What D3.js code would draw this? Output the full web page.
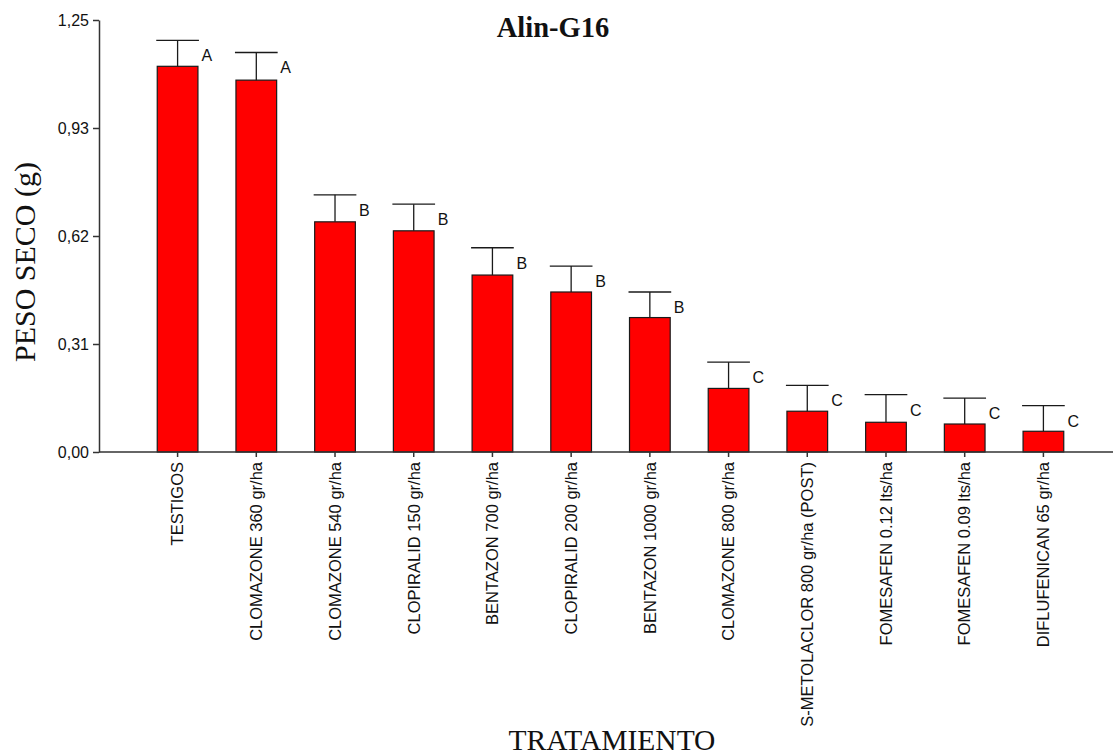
<!DOCTYPE html>
<html>
<head>
<meta charset="utf-8">
<script src="https://cdn.jsdelivr.net/npm/d3@7"></script>
<style>
  body { margin: 0; background: #fff; }
  svg { display: block; }
</style>
</head>
<body>
<div id="chart"></div>
<script>
const categories = [
  'TESTIGOS', 'CLOMAZONE 360 gr/ha', 'CLOMAZONE 540 gr/ha', 'CLOPIRALID 150 gr/ha',
  'BENTAZON 700 gr/ha', 'CLOPIRALID 200 gr/ha', 'BENTAZON 1000 gr/ha', 'CLOMAZONE 800 gr/ha',
  'S-METOLACLOR 800 gr/ha (POST)', 'FOMESAFEN 0.12 lts/ha', 'FOMESAFEN 0.09 lts/ha', 'DIFLUFENICAN 65 gr/ha'
];
const means = [1.116, 1.076, 0.666, 0.640, 0.512, 0.463, 0.389, 0.184, 0.118, 0.086, 0.081, 0.060];
const errors = [0.075, 0.080, 0.078, 0.077, 0.079, 0.075, 0.074, 0.076, 0.075, 0.080, 0.075, 0.074];
const groups = ['A', 'A', 'B', 'B', 'B', 'B', 'B', 'C', 'C', 'C', 'C', 'C'];
const yTicks = [0, 0.3125, 0.625, 0.9375, 1.25];
const yTickLabels = ['0,00', '0,31', '0,62', '0,93', '1,25'];

const width = 1114, height = 756;
const sans = '"Liberation Sans", Arial, sans-serif',
    serif = '"Liberation Serif", "Times New Roman", serif';

const svg = d3.select('#chart').append('svg')
  .attr('width', width)
  .attr('height', height);

const x = d3.scaleBand()
  .domain(categories)
  .range([99, 1122])
  .paddingInner(0.483)
  .paddingOuter(0.74);

const y = d3.scaleLinear().domain([0, 1.25]).range([452, 20]);

const data = categories.map((c, i) => ({ cat: c, mean: means[i], err: errors[i], group: groups[i] }));

// bars
svg.append('g').selectAll('rect')
  .data(data)
  .enter().append('rect')
    .attr('x', d => x(d.cat))
    .attr('y', d => y(d.mean))
    .attr('width', x.bandwidth())
    .attr('height', d => y(0) - y(d.mean))
    .attr('fill', '#ff0000')
    .attr('stroke', '#1a1a1a')
    .attr('stroke-width', 1.2);

// error bars (upper only)
const capW = x.bandwidth() + 2;
const eb = svg.append('g').attr('stroke', '#1a1a1a').attr('stroke-width', 1.3);
eb.selectAll('.stem')
  .data(data)
  .enter().append('line')
    .attr('x1', d => x(d.cat) + x.bandwidth() / 2)
    .attr('x2', d => x(d.cat) + x.bandwidth() / 2)
    .attr('y1', d => y(d.mean))
    .attr('y2', d => y(d.mean + d.err));
eb.selectAll('.cap')
  .data(data)
  .enter().append('line')
    .attr('x1', d => x(d.cat) + x.bandwidth() / 2 - capW / 2)
    .attr('x2', d => x(d.cat) + x.bandwidth() / 2 + capW / 2)
    .attr('y1', d => y(d.mean + d.err))
    .attr('y2', d => y(d.mean + d.err));

// significance letters
svg.append('g').selectAll('text')
  .data(data)
  .enter().append('text')
    .attr('x', d => x(d.cat) + x.bandwidth() / 2 + 24)
    .attr('y', d => y(d.mean + d.err) + 21)
    .attr('font-family', sans)
    .attr('font-size', 16)
    .attr('fill', '#111')
    .text(d => d.group);

// y axis
const yAxis = svg.append('g')
  .attr('transform', 'translate(99,0)')
  .call(d3.axisLeft(y).tickValues(yTicks).tickSize(6).tickSizeOuter(0).tickPadding(4)
    .tickFormat((d, i) => yTickLabels[i]));
yAxis.selectAll('path, line').attr('stroke', '#333').attr('stroke-width', 1.5);
yAxis.selectAll('text').attr('font-family', sans).attr('font-size', 16).attr('fill', '#111');

// x axis
const xAxis = svg.append('g')
  .attr('transform', 'translate(0,452)')
  .call(d3.axisBottom(x).tickSize(5).tickSizeOuter(0).tickPadding(0));
xAxis.select('.domain').remove();
xAxis.selectAll('line').attr('stroke', '#333').attr('stroke-width', 1.5);
xAxis.selectAll('text')
  .attr('font-family', sans)
  .attr('font-size', 16.5)
  .attr('fill', '#111')
  .attr('text-anchor', 'end')
  .attr('transform', 'translate(0,10) rotate(-90)')
  .attr('x', 0)
  .attr('y', 0)
  .attr('dy', '0.35em');

svg.append('line')
  .attr('x1', 99).attr('x2', 1113)
  .attr('y1', 452).attr('y2', 452)
  .attr('stroke', '#333').attr('stroke-width', 1.5);

// titles
svg.append('text')
  .attr('x', 553).attr('y', 37)
  .attr('text-anchor', 'middle')
  .attr('font-family', serif)
  .attr('font-weight', 'bold')
  .attr('font-size', 28.5)
  .attr('fill', '#111')
  .text('Alin-G16');

svg.append('text')
  .attr('transform', 'translate(35,262) rotate(-90)')
  .attr('text-anchor', 'middle')
  .attr('font-family', serif)
  .attr('font-size', 30)
  .attr('fill', '#111')
  .text('PESO SECO (g)');

svg.append('text')
  .attr('x', 612).attr('y', 750)
  .attr('text-anchor', 'middle')
  .attr('font-family', serif)
  .attr('font-size', 29.5)
  .attr('fill', '#111')
  .text('TRATAMIENTO');
</script>
</body>
</html>
